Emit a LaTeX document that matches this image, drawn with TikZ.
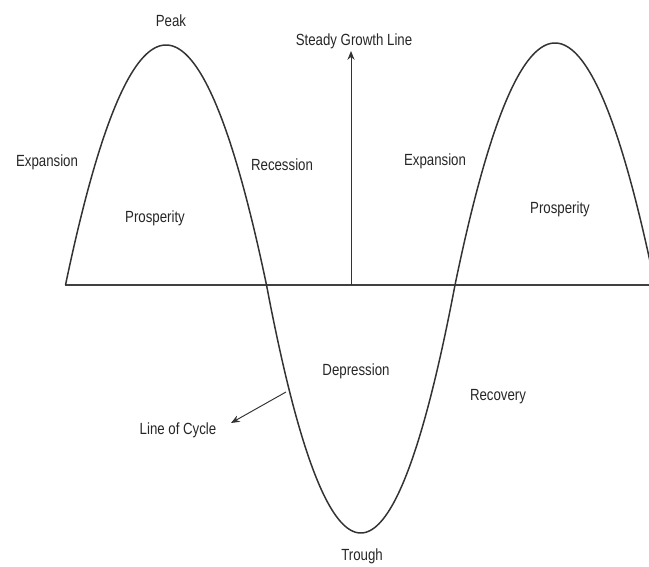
\documentclass[tikz,border=0pt]{standalone}
\usepackage{fontspec}
\setmainfont[FakeStretch=0.82]{Liberation Sans}
\usetikzlibrary{arrows.meta}
\begin{document}
\begin{tikzpicture}[x=0.02cm,y=-0.02cm,
  lbl/.style={inner sep=0pt,text=black!85,font=\fontsize{9.2}{11}\selectfont},
  cyclecurve/.style={draw=black!80,line width=0.85pt},
  baseline/.style={draw=black!75,line width=1.4pt},
  pointer/.style={draw=black!80,line width=0.55pt,-{Stealth[length=5pt,width=4pt]}}]
\useasboundingbox (0,0) rectangle (649,567);
% base line
\coordinate (b0) at (65,285);
\coordinate (b1) at (649,285);
\draw[baseline] (b0) -- (b1);
% line of cycle
\begin{scope}
\clip (0,0) rectangle (649,567);
\draw[cyclecurve] plot[domain=65.5:266.5,samples=90] (\x,{285-240*(1-((\x-166)/100.5)^2)})
  -- plot[domain=266.5:455,samples=90] (\x,{285+248*(1-((\x-360.75)/94.25)^2)})
  -- plot[domain=455:652,samples=90] (\x,{285-242*(1-((\x-555)/100)^2)});
\end{scope}
% labels
\node[lbl] (peak) at (171,21) {Peak};
\node[lbl] (sgl) at (354,41) {Steady Growth Line};
\node[lbl] (exp1) at (47,162) {Expansion};
\node[lbl] (rec) at (282,165) {Recession};
\node[lbl] (exp2) at (435,161) {Expansion};
\node[lbl] (pros1) at (155,218) {Prosperity};
\node[lbl] (pros2) at (560,209) {Prosperity};
\node[lbl] (dep) at (356,371) {Depression};
\node[lbl] (recov) at (498,397) {Recovery};
\node[lbl] (cycl) at (178,430) {Line of Cycle};
\node[lbl] (trough) at (362,556) {Trough};
% steady growth arrow
\coordinate (sgbase) at (351,285);
\coordinate (sgtip) at (351,51);
\draw[pointer] (sgbase) -- (sgtip);
% line of cycle pointer
\coordinate (cycpt) at (286,392);
\coordinate (cyctip) at (231,423);
\draw[pointer] (cycpt) -- (cyctip);
\end{tikzpicture}
\end{document}
